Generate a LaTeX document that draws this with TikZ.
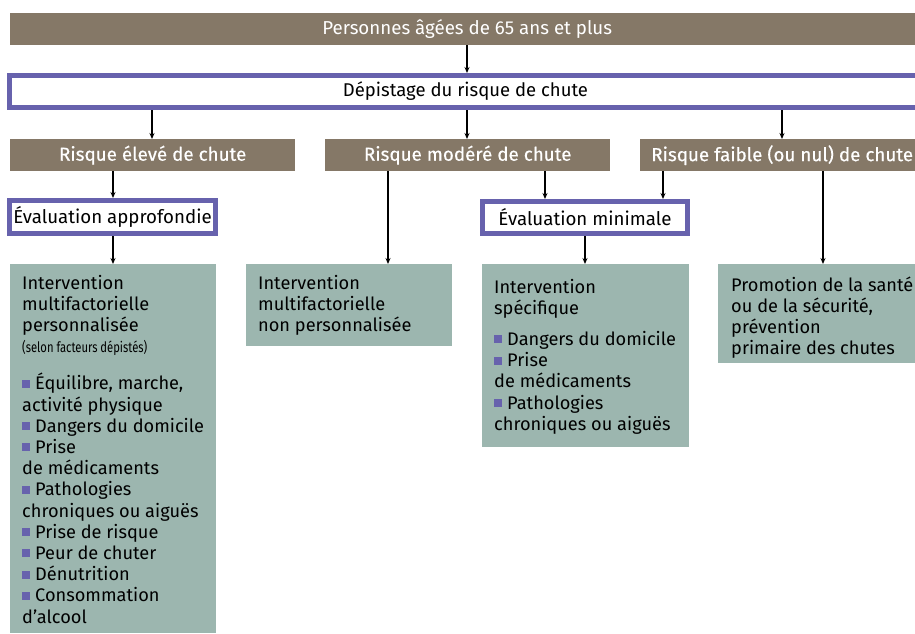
\documentclass[tikz,border=0pt]{standalone}
\usepackage{fontspec}
\usetikzlibrary{arrows.meta}
\setmainfont{Fira Sans}
\newfontfamily\condfont[FakeStretch=0.78]{Fira Sans}
\newfontfamily\medfont[FakeBold=0.4]{Fira Sans}
\definecolor{brun}{HTML}{857867}
\definecolor{vert}{HTML}{9CB6AF}
\definecolor{purp}{HTML}{6762AD}
\newcommand\puce{{\color{purp}\rule[2pt]{8pt}{8pt}}\hspace{5pt}}
\newcommand\gboxtext[4]{\parbox[t][#2][t]{#1}{\raggedright\fontsize{18.2}{21.2}\selectfont\vspace*{#3}\strut#4}}
\tikzset{
  x=1pt, y=-1pt,
  brownbox/.style={fill=brun, text=white, minimum height=32pt, inner sep=0pt,
    anchor=north west, font=\medfont\fontsize{18.8}{20}\selectfont},
  purpbox/.style={draw=purp, line width=5pt, fill=white, inner sep=0pt,
    anchor=north west, font=\fontsize{18.7}{20}\selectfont},
  greenbox/.style={fill=vert, inner xsep=12pt, inner ysep=0pt, anchor=north west},
  arr/.style={line width=1.1pt, -{Stealth[length=6pt,width=5pt]}}
}
\begin{document}
\begin{tikzpicture}
\path[use as bounding box] (0,0) rectangle (915,633);
\clip (0,0) rectangle (915,633);
% top
\node[brownbox, minimum width=914pt, font=\fontsize{18.7}{20}\selectfont] (top) at (10,13) {Personnes âgées de 65 ans et plus};
\node[purpbox, minimum width=912pt, minimum height=32pt, font=\fontsize{18.5}{20}\selectfont] (dep) at (7,73) {Dépistage du risque de chute};
% risk boxes
\node[brownbox, minimum width=285pt] (re) at (10,139) {Risque élevé de chute};
\node[brownbox, minimum width=285pt] (rm) at (325,139) {Risque modéré de chute};
\node[brownbox, minimum width=284pt] (rf) at (640,139) {Risque faible (ou nul) de chute};
% evaluations
\node[purpbox, minimum width=206pt, minimum height=33pt] (ea) at (7,198) {Évaluation approfondie};
\node[purpbox, minimum width=205pt, minimum height=32pt] (em) at (480,199) {Évaluation minimale};
% green boxes
\node[greenbox] (g1) at (10,264) {\gboxtext{182pt}{369pt}{10pt}{Intervention\\
multifactorielle\\
personnalisée\\
{\condfont\fontsize{14.4}{16}\selectfont (selon facteurs dépistés)}\\[16pt]
\puce Équilibre, marche,\\
activité physique\\
\puce Dangers du domicile\\
\puce Prise\\
de médicaments\\
\puce Pathologies\\
chroniques ou aiguës\\
\puce Prise de risque\\
\puce Peur de chuter\\
\puce Dénutrition\\
\puce Consommation\\
d’alcool}};
\node[greenbox] (g2) at (246,264) {\gboxtext{182pt}{82pt}{10pt}{Intervention\\
multifactorielle\\
non personnalisée}};
\node[greenbox] (g3) at (482,264) {\gboxtext{183pt}{183pt}{14pt}{Intervention\\
spécifique\\[10pt]
\puce Dangers du domicile\\
\puce Prise\\
de médicaments\\
\puce Pathologies\\
chroniques ou aiguës}};
\node[greenbox, inner xsep=13pt] (g4) at (718,264) {\gboxtext{184pt}{99pt}{12pt}{Promotion de la santé\\
ou de la sécurité,\\
prévention\\
primaire des chutes}};
% connectors
\coordinate (xa) at (113,0);
\coordinate (xb) at (388,0);
\coordinate (xc) at (545,0);
\coordinate (xd) at (663,0);
\coordinate (xe) at (585,0);
\coordinate (xf) at (823,0);
\coordinate (xg) at (152,0);
\coordinate (xh) at (467,0);
\coordinate (xi) at (782,0);
\draw[arr] (xh |- top.south) -- (xh |- dep.north);
\draw[arr] (xg |- dep.south) -- (xg |- re.north);
\draw[arr] (xh |- dep.south) -- (xh |- rm.north);
\draw[arr] (xi |- dep.south) -- (xi |- rf.north);
\draw[arr] (xa |- re.south) -- (xa |- ea.north);
\draw[arr] (xa |- ea.south) -- (xa |- g1.north);
\draw[arr] (xb |- rm.south) -- (xb |- g2.north);
\draw[arr] (xc |- rm.south) -- (xc |- em.north);
\draw[arr] (xd |- rf.south) -- (xd |- em.north);
\draw[arr] (xe |- em.south) -- (xe |- g3.north);
\draw[arr] (xf |- rf.south) -- (xf |- g4.north);
\end{tikzpicture}
\end{document}
